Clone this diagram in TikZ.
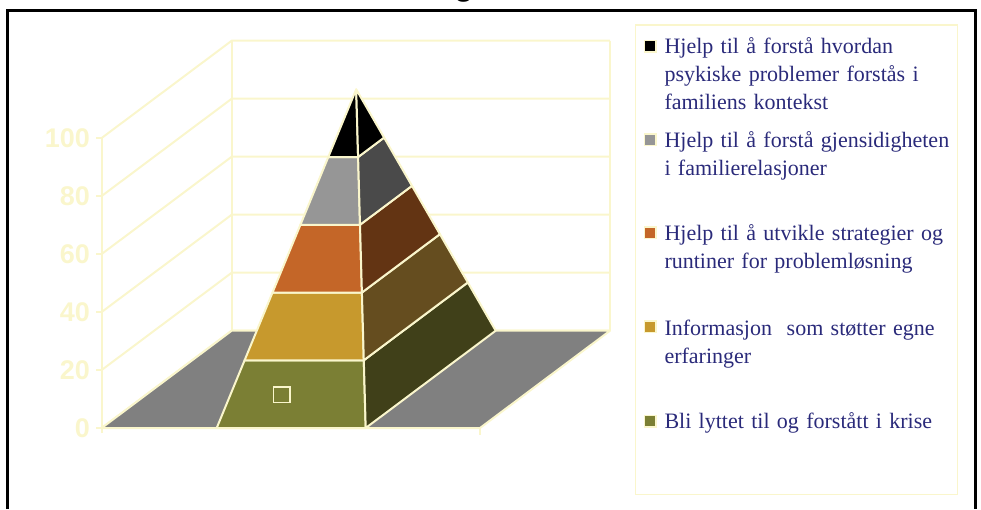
\documentclass[tikz,border=0pt]{standalone}
\usepackage{fontspec}
\setmainfont{Liberation Serif}
\newfontfamily\axisfont{Liberation Sans}
\usetikzlibrary{calc}

% palette
\definecolor{gridy}{RGB}{250,246,204}
\definecolor{legtext}{RGB}{42,42,122}
\definecolor{floorgray}{RGB}{128,128,128}
\definecolor{lvAf}{RGB}{123,127,52}
\definecolor{lvAr}{RGB}{64,64,25}
\definecolor{lvBf}{RGB}{199,153,45}
\definecolor{lvBr}{RGB}{101,77,31}
\definecolor{lvCf}{RGB}{196,102,40}
\definecolor{lvCr}{RGB}{99,52,19}
\definecolor{lvDf}{RGB}{150,150,150}
\definecolor{lvDr}{RGB}{74,74,74}
\definecolor{lvEf}{RGB}{0,0,0}
\definecolor{lvEr}{RGB}{0,0,0}

\tikzset{
  gridline/.style={draw=gridy, line width=2pt},
  facestyle/.style={draw=gridy, line width=2pt, line join=round},
  axlab/.style={font=\axisfont\bfseries\fontsize{27}{27}\selectfont, text=gridy, inner sep=0pt, anchor=east},
  legmark/.style={draw=gridy, line width=1.5pt, minimum size=11.5pt, inner sep=0pt},
  legentry/.style={font=\fontsize{22}{28}\selectfont, text=legtext, inner sep=0pt,
    anchor=base west, text width=300pt, align=left},
}

\begin{document}
\begin{tikzpicture}[x=1pt, y=-1pt]
\useasboundingbox (0,0) rectangle (981,509);

% title, only its lowest stroke falls inside the page
\begin{scope}
  \clip (0,0) rectangle (981,2.8);
  \node[font=\axisfont\bfseries\fontsize{32}{32}\selectfont, anchor=base] (title) at (464,-4.6) {g};
\end{scope}

% outer frame
\draw[black, line width=3pt] (7.5,509) -- (7.5,10.5) -- (975,10.5) -- (975,509);

% chart box corners
\coordinate (F1) at (101.7,428);
\coordinate (F2) at (480,428);
\coordinate (F3) at (610,330.7);
\coordinate (F4) at (231.7,330.7);

% walls and gridlines
\foreach \k in {0,...,5} {
  \draw[gridline] (101.7,{428-58*\k}) -- (231.7,{330.7-58*\k}) -- (610,{330.7-58*\k});
  \draw[gridline] (96,{428-58*\k}) -- (101.7,{428-58*\k});
}
\draw[gridline] (101.7,433) -- (101.7,138);
\draw[gridline] (231.7,330.7) -- (231.7,40.7);
\draw[gridline] (610,330.7) -- (610,40.7);
\draw[gridline] (480,428) -- (480,435);

% value axis labels
\node[axlab] (l0)   at (90,428)   {0};
\node[axlab] (l20)  at (90,370)   {20};
\node[axlab] (l40)  at (90,312)   {40};
\node[axlab] (l60)  at (90,254)   {60};
\node[axlab] (l80)  at (90,196)   {80};
\node[axlab] (l100) at (90,138)   {100};

% floor
\filldraw[fill=floorgray, facestyle] (F1) -- (F2) -- (F3) -- (F4) -- cycle;

% pyramid
\coordinate (A) at (216.7,428);
\coordinate (B) at (365.7,428);
\coordinate (C) at (495.7,330.7);
\coordinate (P) at (356.2,89.3);
\foreach \k in {0,...,5} {
  \coordinate (a\k) at ($(A)!\k/5!(P)$);
  \coordinate (b\k) at ($(B)!\k/5!(P)$);
  \coordinate (c\k) at ($(C)!\k/5!(P)$);
}
\foreach \k/\lv in {0/A,1/B,2/C,3/D,4/E} {
  \pgfmathtruncatemacro{\n}{\k+1}
  \filldraw[fill=lv\lv f, facestyle] (a\k) -- (b\k) -- (b\n) -- (a\n) -- cycle;
  \filldraw[fill=lv\lv r, facestyle] (b\k) -- (c\k) -- (c\n) -- (b\n) -- cycle;
}

% small marker on the lowest layer
\draw[gridy, line width=1.8pt] (273.5,387) rectangle (290,402.5);

% legend
\draw[draw=gridy, line width=1.5pt] (635.7,25) rectangle (957.7,494.3);

\node[legmark, fill=lvEf] (m1) at (650,46.2) {};
\node[legentry] (t1) at (664.3,53.3) {Hjelp til å forstå hvordan\\psykiske problemer forstås i\\familiens kontekst};

\node[legmark, fill=lvDf] (m2) at (650,139.7) {};
\node[legentry] (t2) at (664.3,147.7) {Hjelp til å forstå gjensidigheten\\i familierelasjoner};

\node[legmark, fill=lvCf] (m3) at (650,232.7) {};
\node[legentry] (t3) at (664.3,240.7) {Hjelp til å utvikle strategier og\\runtiner for problemløsning};

\node[legmark, fill=lvBf] (m4) at (650,326.7) {};
\node[legentry] (t4) at (664.3,335) {Informasjon\ \ som støtter egne\\erfaringer};

\node[legmark, fill=lvAf] (m5) at (650,421) {};
\node[legentry] (t5) at (664.3,428.3) {Bli lyttet til og forstått i krise};

\end{tikzpicture}
\end{document}
